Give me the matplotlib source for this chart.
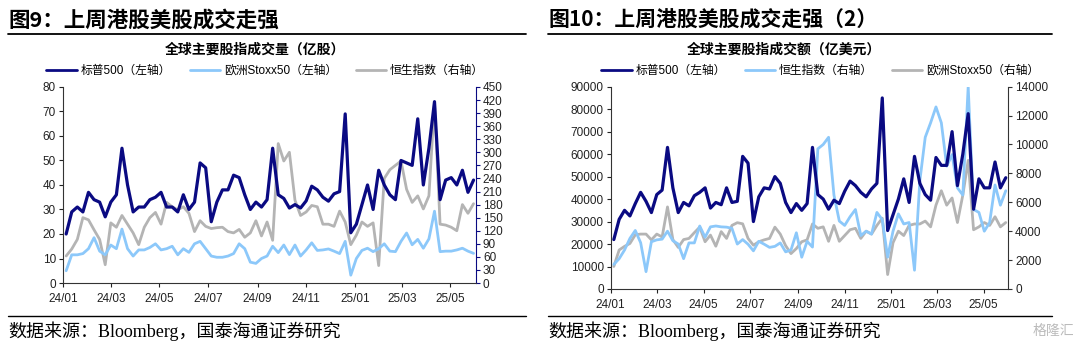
import numpy as np
import pandas as pd
import matplotlib
matplotlib.use("Agg")
import matplotlib.pyplot as plt
import matplotlib.dates as mdates
from matplotlib.lines import Line2D

plt.rcParams['font.family'] = ['Liberation Sans', 'Noto Sans CJK SC']
plt.rcParams['axes.unicode_minus'] = False
plt.rcParams['lines.solid_joinstyle'] = 'round'
plt.rcParams['lines.solid_capstyle'] = 'round'

dates = pd.date_range('2024-01-05', periods=74, freq='7D')

# 图9: 成交量(亿股)
spx_vol = [20, 29, 31, 29, 37, 34, 33, 27, 33, 36, 55, 40, 29, 31, 31, 34, 35, 37, 31, 31,
           29, 36, 30, 33, 49, 47, 25, 33, 38, 38, 44, 43, 36, 30, 33, 31, 34, 55, 36, 34.5,
           30.6, 32, 30.6, 33.5, 39.5, 38, 35, 33.4, 36.4, 37.3, 69, 20.5, 24, 32, 40, 30, 46, 40, 36, 34,
           50, 49, 48, 67, 40, 55, 74, 34, 42, 43, 40, 46, 37, 42]
stoxx_vol = [5, 11.5, 11.5, 12, 14, 18.5, 13, 11.5, 15.5, 14, 22, 14, 11, 13.5, 13.5, 14.5, 16, 13.5, 14, 15,
             11.5, 14, 12.5, 16, 17, 14, 11, 10.5, 10.5, 11, 12, 16, 14, 8.5, 8, 10, 11, 15, 12.4, 15.5,
             11.6, 15.5, 11, 13.5, 16.4, 13.3, 13.5, 13.9, 13, 12, 17, 3.2, 10, 13.3, 14.2, 12.8, 14, 16, 13, 12.8,
             17, 20.4, 15.6, 17.8, 14.2, 18, 29.3, 12.8, 13, 13, 13.5, 14.2, 13, 12.1]
hsi_vol = [62, 78, 100, 150, 145, 122, 100, 42, 138, 128, 155, 135, 115, 88, 128, 150, 162, 135, 185, 175,
           168, 175, 160, 118, 143, 130, 125, 127, 128, 118, 115, 123, 105, 115, 143, 108, 140, 98, 320, 280,
           300, 190, 155, 163, 178, 175, 135, 135, 130, 165, 140, 88, 110, 140, 130, 138, 40, 240, 260, 270,
           280, 215, 185, 200, 170, 200, 415, 135, 133, 128, 120, 180, 160, 182]

# 图10: 成交额(亿美元)
spx_amt = [22000, 31000, 35000, 32500, 38000, 43000, 39000, 34000, 42000, 44000, 63000, 45000, 34000, 38500,
           37000, 41500, 43000, 45000, 36000, 38500, 37500, 45000, 38500, 39000, 59000, 56000, 30000, 41000,
           45000, 44500, 50000, 47000, 38500, 34000, 38000, 35000, 38000, 63000, 42000, 40000, 35500, 39500,
           38000, 43500, 48000, 46000, 43000, 41000, 44500, 47000, 85000, 26000, 33000, 40000, 49000, 38500,
           59000, 47000, 42000, 39500, 58500, 55000, 55000, 70000, 46000, 60000, 78000, 35500, 49000, 45000,
           45000, 56500, 45000, 49500]
hsi_amt = [1700, 2100, 2700, 3500, 4050, 3200, 1200, 3270, 3400, 3450, 4000, 3340, 3110, 2100, 3190, 3190,
           4360, 3580, 4300, 4360, 4300, 4280, 4200, 3110, 3420, 3100, 2640, 3300, 3100, 2880, 2950, 3190,
           2570, 2700, 3890, 2200, 3300, 2900, 9700, 10000, 10500, 6500, 4700, 4400, 5000, 5500, 3700, 4000,
           3800, 5300, 4800, 2200, 4000, 5200, 4500, 4600, 1300, 7500, 10500, 11500, 12600, 11500, 8500, 9300,
           7000, 6500, 14000, 5500, 5300, 4000, 4600, 7200, 5800, 6800]
stoxx_amt = [1560, 2700, 2950, 3150, 3750, 3800, 3800, 3400, 3800, 3600, 5680, 3420, 2880, 3420, 3500, 3900,
             4280, 3270, 3730, 2960, 3970, 3500, 4400, 4590, 4510, 3500, 3030, 3270, 3400, 3500, 4280, 3800,
             3000, 2450, 2800, 3270, 3400, 4500, 4200, 4300, 3300, 4400, 3300, 3700, 4100, 4200, 3500, 4000,
             3800, 4400, 4900, 1000, 3200, 4000, 3700, 4400, 4500, 4500, 4700, 4300, 5800, 6800, 5800, 6300,
             4600, 6500, 8900, 4100, 4300, 4600, 4400, 5000, 4300, 4600]

NAVY = '#0A0A82'
LBLUE = '#8CC8FA'
GRAY = '#B4B4B4'
TICKC = '#222222'
cjk = ['Noto Sans CJK SC']
serif_mix = ['Liberation Serif', 'Noto Sans CJK SC']
tickfont = ['Liberation Sans Narrow', 'Liberation Sans']

fig = plt.figure(figsize=(10.8, 3.52), dpi=100)


def style_axes(ax, ax2, right_color):
    for a in (ax, ax2):
        a.spines['top'].set_visible(False)
        a.tick_params(axis='both', labelsize=8.5, colors=TICKC, length=3, width=0.8, direction='out', pad=2)
    ax.spines['right'].set_visible(False)
    ax2.spines['left'].set_visible(False)
    ax2.spines['bottom'].set_visible(False)
    ax.spines['left'].set_color('#333333')
    ax.spines['bottom'].set_color('#333333')
    ax2.spines['right'].set_color(right_color)
    ax2.tick_params(axis='y', color=right_color)
    ax.set_xlim(pd.Timestamp('2024-01-01'), pd.Timestamp('2025-06-02'))
    ax.xaxis.set_major_locator(mdates.MonthLocator(bymonth=[1, 3, 5, 7, 9, 11]))
    ax.xaxis.set_major_formatter(mdates.DateFormatter('%y/%m'))
    for lab in ax.get_xticklabels():
        lab.set_family(tickfont)
        lab.set_fontsize(8.5)
    ax.tick_params(axis='x', pad=4)


# ---- left chart ----
ax1 = fig.add_axes([0.0583, 0.196, 0.3824, 0.557])
ax1b = ax1.twinx()
ax1.plot(dates, stoxx_vol, color=LBLUE, lw=2.0)
ax1.plot(dates, spx_vol, color=NAVY, lw=2.3, zorder=3)
ax1b.plot(dates, hsi_vol, color=GRAY, lw=2.0)
ax1.set_zorder(ax1b.get_zorder() + 1)
ax1.patch.set_visible(False)
ax1.set_ylim(0, 80)
ax1.set_yticks(np.arange(0, 81, 10))
ax1b.set_ylim(0, 450)
ax1b.set_yticks(np.arange(0, 451, 30))
style_axes(ax1, ax1b, NAVY)

# ---- right chart ----
ax2 = fig.add_axes([0.5655, 0.179, 0.3679, 0.5747])
ax2b = ax2.twinx()
ax2b.plot(dates, stoxx_amt, color=GRAY, lw=2.0)
ax2b.plot(dates, hsi_amt, color=LBLUE, lw=2.0)
ax2.plot(dates, spx_amt, color=NAVY, lw=2.3)
ax2.set_zorder(ax2b.get_zorder() + 1)
ax2.patch.set_visible(False)
ax2.set_ylim(0, 90000)
ax2.set_yticks(np.arange(0, 90001, 10000))
ax2b.set_ylim(0, 14000)
ax2b.set_yticks(np.arange(0, 14001, 2000))
style_axes(ax2, ax2b, '#333333')

# ---- titles, rules, legends ----
fig.text(8 / 1080, 1 - 20 / 352, '图9：上周港股美股成交走强', family=cjk, fontsize=15.5,
         fontweight='bold', va='center', ha='left')
fig.text(548 / 1080, 1 - 20 / 352, '图10：上周港股美股成交走强（2）', family=cjk, fontsize=15,
         fontweight='bold', va='center', ha='left')
for x0, x1 in [(8, 526), (548, 1052)]:
    fig.add_artist(Line2D([x0 / 1080, x1 / 1080], [1 - 34 / 352] * 2, color='black', lw=1.3))
    fig.add_artist(Line2D([x0 / 1080, x1 / 1080], [1 - 316 / 352] * 2, color='black', lw=1.0))

fig.text(255 / 1080, 1 - 50 / 352, '全球主要股指成交量（亿股）', family=cjk, fontsize=10,
         fontweight='bold', ha='center', va='center')
fig.text(784 / 1080, 1 - 50 / 352, '全球主要股指成交额（亿美元）', family=cjk, fontsize=10,
         fontweight='bold', ha='center', va='center')

leg_kw = dict(ncol=3, frameon=False, handlelength=2.6, handletextpad=0.3, columnspacing=1.6,
              loc='center', prop={'family': ['Liberation Sans', 'Noto Sans CJK SC'], 'size': 8.5})
h1 = [Line2D([], [], color=NAVY, lw=2), Line2D([], [], color=LBLUE, lw=2), Line2D([], [], color=GRAY, lw=2)]
fig.legend(h1, ['标普500（左轴）', '欧洲Stoxx50（左轴）', '恒生指数（右轴）'],
           bbox_to_anchor=(265 / 1080, 1 - 71 / 352), **leg_kw)
h2 = [Line2D([], [], color=NAVY, lw=2), Line2D([], [], color=LBLUE, lw=2), Line2D([], [], color=GRAY, lw=2)]
fig.legend(h2, ['标普500（左轴）', '恒生指数（右轴）', '欧洲Stoxx50（右轴）'],
           bbox_to_anchor=(820 / 1080, 1 - 71 / 352), **leg_kw)

fig.text(8 / 1080, 1 - 331 / 352, '数据来源：Bloomberg，国泰海通证券研究', family=serif_mix,
         fontsize=13, va='center', ha='left')
fig.text(548 / 1080, 1 - 331 / 352, '数据来源：Bloomberg，国泰海通证券研究', family=serif_mix,
         fontsize=13, va='center', ha='left')
fig.text(1074 / 1080, 1 - 331 / 352, '格隆汇', family=cjk, fontsize=10, color='#BBBBBB',
         va='center', ha='right')

fig.savefig('out.png', dpi=100)
